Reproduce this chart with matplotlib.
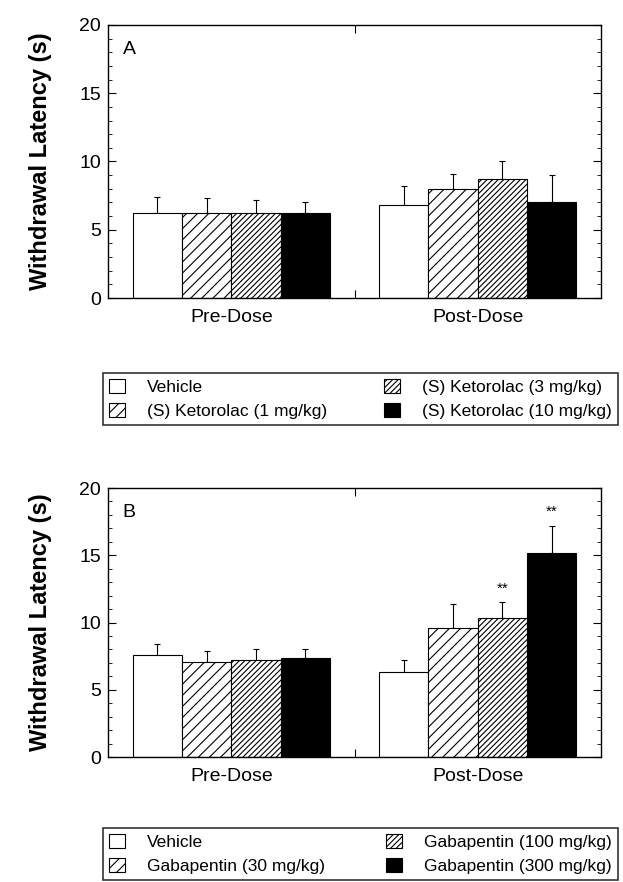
import matplotlib
matplotlib.use("Agg")
import matplotlib.pyplot as plt
import numpy as np
from matplotlib.patches import Patch
from matplotlib.ticker import MultipleLocator

plt.rcParams['font.family'] = ['Liberation Sans', 'DejaVu Sans']
plt.rcParams['hatch.linewidth'] = 0.8

# === DATA ===
groups = ["Pre-Dose", "Post-Dose"]

ketorolac_labels = ["Vehicle", "(S) Ketorolac (1 mg/kg)",
                    "(S) Ketorolac (3 mg/kg)", "(S) Ketorolac (10 mg/kg)"]
ketorolac_means = [[6.25, 6.25, 6.2, 6.2],     # pre
                   [6.8, 8.0, 8.7, 7.05]]      # post
ketorolac_sem = [[1.15, 1.1, 1.0, 0.85],
                 [1.4, 1.1, 1.3, 1.95]]

gaba_labels = ["Vehicle", "Gabapentin (30 mg/kg)",
               "Gabapentin (100 mg/kg)", "Gabapentin (300 mg/kg)"]
gaba_means = [[7.55, 7.05, 7.25, 7.35],
              [6.3, 9.6, 10.3, 15.2]]
gaba_sem = [[0.85, 0.85, 0.75, 0.7],
            [0.9, 1.8, 1.2, 2.0]]
gaba_sig = [["", "", "", ""],
            ["", "", "**", "**"]]

# bar styles: vehicle, low, mid, high
faces = ["white", "white", "white", "black"]
hatches = [None, "///", "//////", None]


def draw_panel(ax, means, sems, letter, sig=None):
    width = 0.2
    centers = [0.5, 1.5]
    for g, c in enumerate(centers):
        for i in range(4):
            x = c + (i - 1.5) * width
            ax.bar(x, means[g][i], width=width, color=faces[i],
                   edgecolor="black", linewidth=0.8, hatch=hatches[i],
                   zorder=2)
            ax.errorbar(x, means[g][i], yerr=[[0], [sems[g][i]]],
                        fmt="none", ecolor="black", elinewidth=0.8,
                        capsize=2.5, capthick=0.8, zorder=1)
            if sig and sig[g][i]:
                ax.text(x, means[g][i] + sems[g][i] + 0.5, sig[g][i],
                        ha="center", va="bottom", fontsize=11)
    ax.set_xlim(0, 2)
    ax.set_ylim(0, 20)
    ax.yaxis.set_major_locator(MultipleLocator(5))
    ax.yaxis.set_minor_locator(MultipleLocator(1))
    ax.set_xticks([1.0])
    ax.set_xticklabels([])
    ax.tick_params(axis="y", which="both", direction="in", left=True,
                   right=True, labelsize=14, pad=5)
    ax.tick_params(axis="y", which="major", length=6)
    ax.tick_params(axis="y", which="minor", length=3)
    ax.tick_params(axis="x", direction="in", top=True, bottom=True, length=6)
    for c, name in zip(centers, groups):
        ax.text(c, -0.8, name, transform=ax.transData, ha="center",
                va="top", fontsize=14)
    ax.text(0.03, 0.91, letter, transform=ax.transAxes, fontsize=14,
            ha="left", va="center")
    ax.set_ylabel("Withdrawal Latency (s)", fontsize=17, fontweight="bold",
                  labelpad=20)
    for s in ax.spines.values():
        s.set_linewidth(1.0)


def panel_legend(fig, labels, bbox):
    handles = [Patch(facecolor=faces[i], edgecolor="black", hatch=hatches[i],
                     linewidth=0.8, label=labels[i]) for i in range(4)]
    leg = fig.legend(handles=handles, ncol=2, loc="lower left",
                     bbox_to_anchor=bbox, mode="expand", frameon=True,
                     fancybox=False, edgecolor="black", fontsize=12.5,
                     handlelength=0.9, handleheight=0.9, handletextpad=1.3,
                     borderaxespad=0, borderpad=0.35, labelspacing=0.45,
                     columnspacing=3)
    leg.get_frame().set_linewidth(1.2)


fig = plt.figure(figsize=(6.23, 8.82), dpi=100)
axA = fig.add_axes([0.1734, 0.6621, 0.7913, 0.3096])
axB = fig.add_axes([0.1734, 0.1417, 0.7913, 0.305])

draw_panel(axA, ketorolac_means, ketorolac_sem, "A")
draw_panel(axB, gaba_means, gaba_sem, "B", gaba_sig)

panel_legend(fig, ketorolac_labels, (0.1653, 0.518, 0.827, 0.068))
panel_legend(fig, gaba_labels, (0.1653, 0.002, 0.827, 0.066))

fig.savefig("out.png", dpi=100)
